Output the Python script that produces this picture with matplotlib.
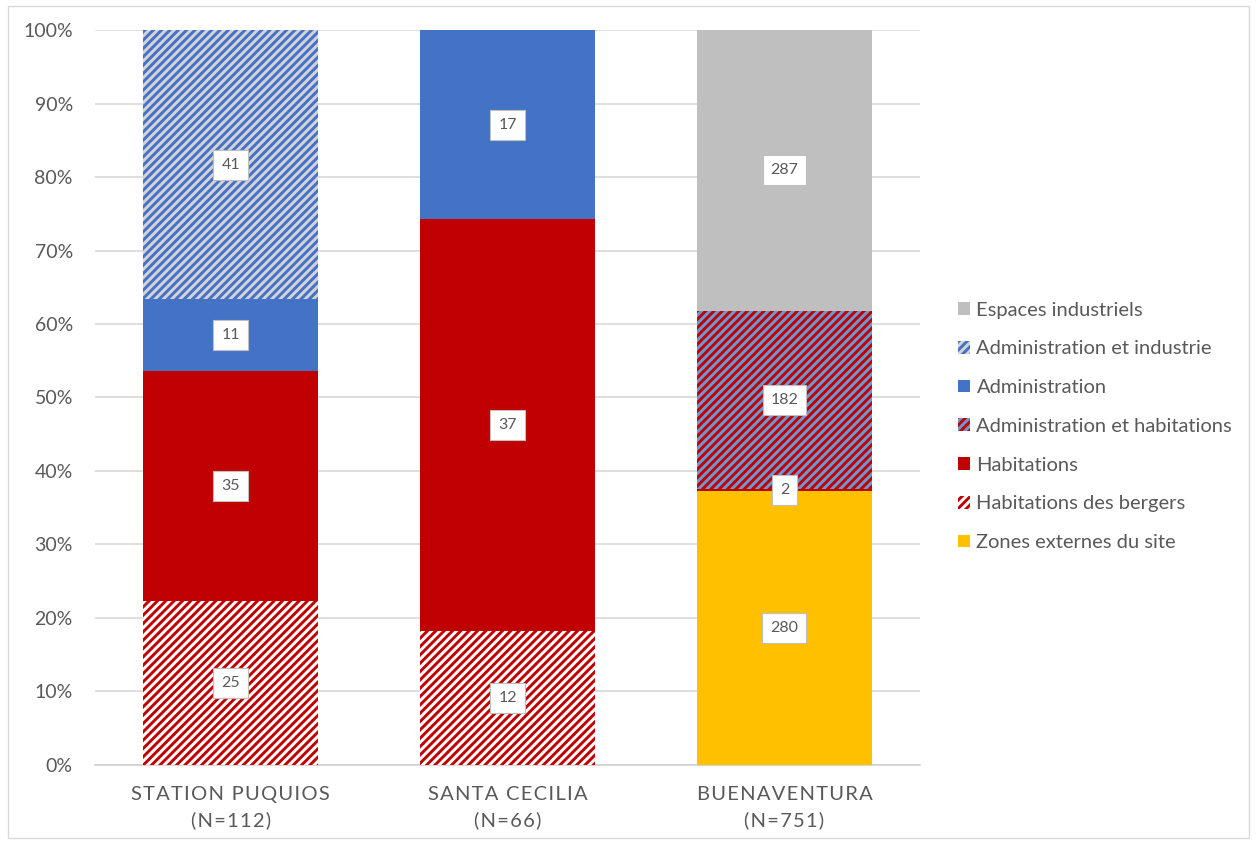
import matplotlib.pyplot as plt
from matplotlib.patches import Rectangle
from matplotlib.ticker import PercentFormatter
import numpy as np

# --- Données ---
sites = ["STATION PUQUIOS", "SANTA CECILIA", "BUENAVENTURA"]
effectifs = [112, 66, 751]
series_names = [
    "Zones externes du site",
    "Habitations des bergers",
    "Habitations",
    "Administration et habitations",
    "Administration",
    "Administration et industrie",
    "Espaces industriels",
]
zones_externes = [0, 0, 280]
habitations_bergers = [25, 12, 0]
habitations = [35, 37, 2]
admin_habitations = [0, 0, 182]
administration = [11, 17, 0]
admin_industrie = [41, 0, 0]
espaces_industriels = [0, 0, 287]

series_values = [zones_externes, habitations_bergers, habitations, admin_habitations,
                 administration, admin_industrie, espaces_industriels]

# (fond, couleur des hachures, motif)
styles = [
    ("#FFC000", None, None),
    ("#FFFFFF", "#C00000", "////"),
    ("#C00000", None, None),
    ("#6A9AD4", "#C00000", "////"),
    ("#4472C4", None, None),
    ("#D4D4D8", "#4472C4", "////"),
    ("#BFBFBF", None, None),
]

plt.rcParams["font.family"] = ["Lato", "DejaVu Sans"]
plt.rcParams["hatch.linewidth"] = 2.1

TXT = "#595959"
HAIR = "\u200a"


def espacer(s):
    """Espacement des lettres façon Excel."""
    return HAIR.join(s)


categories = [f"{espacer(s)}\n{espacer(f'(N={n})')}" for s, n in zip(sites, effectifs)]

fig = plt.figure(figsize=(12.57, 8.41), dpi=100)
ax = fig.add_axes([0.0756, 0.0904, 0.6564, 0.8739])

data = np.array(series_values, dtype=float)
totals = data.sum(axis=0)
pct = data / totals * 100
x = np.arange(len(categories))
width = 0.63

bottom = np.zeros(len(categories))
handles = []
for name, vals, raw, (fc, hc, hatch) in zip(series_names, pct, data, styles):
    if hatch:
        bars = ax.bar(x, vals, width, bottom=bottom, color=fc, edgecolor=hc,
                      hatch=hatch, linewidth=0, label=name, zorder=3)
    else:
        bars = ax.bar(x, vals, width, bottom=bottom, color=fc, linewidth=0,
                      label=name, zorder=3)
    handles.append(bars)
    for xi, v, r, b in zip(x, vals, raw, bottom):
        if r > 0:
            ax.text(xi, b + v / 2, f"{int(r)}", ha="center", va="center", fontsize=11.5,
                    color=TXT, zorder=5,
                    bbox=dict(boxstyle="square,pad=0.5", fc="white", ec="#BFBFBF", lw=0.8))
    bottom += vals

ax.set_ylim(0, 100)
ax.set_xlim(-0.49, 2.49)
ax.set_yticks(np.arange(0, 101, 10))
ax.yaxis.set_major_formatter(PercentFormatter(decimals=0))
ax.grid(axis="y", color="#D9D9D9", linewidth=1.2, zorder=0)
ax.set_axisbelow(True)
for side in ["top", "right", "left"]:
    ax.spines[side].set_visible(False)
ax.spines["bottom"].set_color("#D0D0D0")
ax.spines["bottom"].set_linewidth(1.2)

ax.set_xticks(x)
ax.set_xticklabels(categories, fontsize=14.5, color=TXT, linespacing=1.55)
ax.tick_params(axis="x", length=0, pad=15)
ax.tick_params(axis="y", length=0, pad=16, labelsize=14, labelcolor=TXT)

ax.legend(handles[::-1], series_names[::-1], loc="center left",
          bbox_to_anchor=(0.748, 0.493), bbox_transform=fig.transFigure,
          frameon=False, fontsize=14.5, labelcolor=TXT, handlelength=0.6,
          handleheight=0.6, handletextpad=0.3, labelspacing=1.08)

# cadre du graphique
fig.patches.append(Rectangle((0.006, 0.004), 0.988, 0.989, transform=fig.transFigure,
                             fill=False, ec="#D9D9D9", lw=1.0))

fig.savefig("out.png", dpi=100)
